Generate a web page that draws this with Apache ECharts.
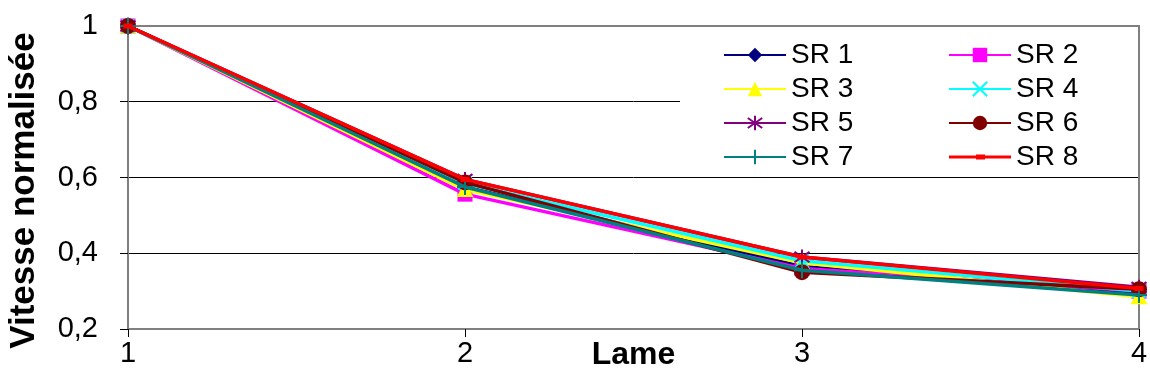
<!DOCTYPE html>
<html>
<head>
<meta charset="utf-8">
<style>
html,body{margin:0;padding:0;background:#fff;}
#chart{width:1150px;height:386px;}
</style>
<script src="https://cdn.jsdelivr.net/npm/echarts@6/dist/echarts.min.js"></script>
</head>
<body>
<div id="chart"></div>
<script>
// Data
var lames = [1, 2, 3, 4];
var seriesNames = ['SR 1','SR 2','SR 3','SR 4','SR 5','SR 6','SR 7','SR 8'];
var sr1 = [1, 0.575, 0.365, 0.295];
var sr2 = [1, 0.556, 0.360, 0.300];
var sr3 = [1, 0.568, 0.375, 0.285];
var sr4 = [1, 0.585, 0.380, 0.300];
var sr5 = [1, 0.595, 0.390, 0.310];
var sr6 = [1, 0.587, 0.350, 0.305];
var sr7 = [1, 0.575, 0.355, 0.290];
var sr8 = [1, 0.595, 0.390, 0.307];
var yTickValues = [0.2, 0.4, 0.6, 0.8, 1];
var yTickLabels = ['0,2', '0,4', '0,6', '0,8', '1'];
var xTickLabels = ['1', '2', '3', '4'];

var values = [sr1, sr2, sr3, sr4, sr5, sr6, sr7, sr8];
var colors = ['#000080','#FF00FF','#FFFF00','#00FFFF','#800080','#800000','#008080','#FF0000'];
var symbols = [
  {symbol:'diamond', size:[15,18], stroke:false},
  {symbol:'rect', size:15, stroke:false},
  {symbol:'triangle', size:[17,15], stroke:false},
  {symbol:'path://M0,0L10,10M10,0L0,10', size:13, stroke:true},
  {symbol:'path://M5,0L5,10M0,1.5L10,8.5M10,1.5L0,8.5', size:15, stroke:true},
  {symbol:'circle', size:16, stroke:false},
  {symbol:'path://M5,0L5,10M0,5L10,5', size:16, stroke:true},
  {symbol:'rect', size:[9,5], stroke:false}
];

var FONT = '"Liberation Sans", Arial, sans-serif';

var series = values.map(function (vals, i) {
  var s = symbols[i];
  return {
    name: seriesNames[i],
    type: 'line',
    data: vals.map(function (v, j) { return [lames[j], v]; }),
    symbol: s.symbol,
    symbolSize: s.size,
    showAllSymbol: true,
    lineStyle: {color: colors[i], width: 3.5},
    itemStyle: s.stroke
      ? {color: 'rgba(0,0,0,0)', borderColor: colors[i], borderWidth: 2}
      : {color: colors[i], borderWidth: 0},
    emphasis: {disabled: true},
    z: 2 + i
  };
});

var legendCommon = {
  orient: 'vertical',
  top: 36,
  itemWidth: 62,
  itemHeight: 18,
  itemGap: 6,
  textStyle: {fontFamily: FONT, fontSize: 28, color: '#000', lineHeight: 28},
  selectedMode: false,
  z: 10
};

var chart = echarts.init(document.getElementById('chart'), null, {renderer: 'canvas'});
chart.setOption({
  animation: false,
  backgroundColor: '#fff',
  grid: {
    left: 128, right: 11, top: 26, bottom: 57,
    show: false,
    containLabel: false,
    outerBoundsMode: 'none'
  },
  graphic: [{
    type: 'rect',
    shape: {x: 680, y: 29, width: 458, height: 143},
    style: {fill: '#fff'},
    z: 1
  }, {
    type: 'line',
    shape: {x1: 1139, y1: 26, x2: 1139, y2: 329},
    style: {stroke: '#808080', lineWidth: 2},
    z: 1
  }, {
    type: 'line',
    shape: {x1: 128, y1: 26, x2: 1140, y2: 26},
    style: {stroke: '#808080', lineWidth: 2},
    z: 1
  }],
  legend: [
    Object.assign({}, legendCommon, {left: 718, data: ['SR 1','SR 3','SR 5','SR 7']}),
    Object.assign({}, legendCommon, {left: 943, data: ['SR 2','SR 4','SR 6',
      {name: 'SR 8', icon: 'path://M0,8.5L62,8.5L62,11.5L0,11.5Z M27,7.5L36,7.5L36,12.5L27,12.5Z'}]})
  ],
  xAxis: {
    type: 'value',
    min: 1, max: 4, interval: 1,
    name: 'Lame',
    nameLocation: 'middle',
    nameGap: 10,
    nameMoveOverlap: false,
    nameTextStyle: {fontFamily: FONT, fontSize: 32, fontWeight: 'bold', color: '#000'},
    axisLine: {show: true, onZero: false, lineStyle: {color: '#808080', width: 2}},
    axisTick: {show: true, inside: false, length: 8, lineStyle: {color: '#000', width: 1}},
    axisLabel: {
      fontFamily: FONT, fontSize: 29, color: '#000', margin: 10,
      formatter: function (v) { var k = lames.indexOf(v); return k >= 0 ? xTickLabels[k] : ''; }
    },
    splitLine: {show: false}
  },
  yAxis: {
    type: 'value',
    min: 0.2, max: 1, interval: 0.2,
    name: 'Vitesse normalisée',
    nameLocation: 'middle',
    nameRotate: 90,
    nameGap: 86,
    nameMoveOverlap: false,
    nameTextStyle: {fontFamily: FONT, fontSize: 35, fontWeight: 'bold', color: '#000', padding: [0, 26, 0, 0]},
    axisLine: {show: true, lineStyle: {color: '#808080', width: 2}},
    axisTick: {show: true, inside: false, length: 8, lineStyle: {color: '#000', width: 1}},
    axisLabel: {
      fontFamily: FONT, fontSize: 29, color: '#000', margin: 30,
      formatter: function (v) {
        for (var k = 0; k < yTickValues.length; k++) {
          if (Math.abs(yTickValues[k] - v) < 1e-6) return yTickLabels[k];
        }
        return '';
      }
    },
    splitLine: {show: true, lineStyle: {color: ['#808080','#000','#000','#000','#808080'], width: 1}}
  },
  series: series
});
</script>
</body>
</html>
